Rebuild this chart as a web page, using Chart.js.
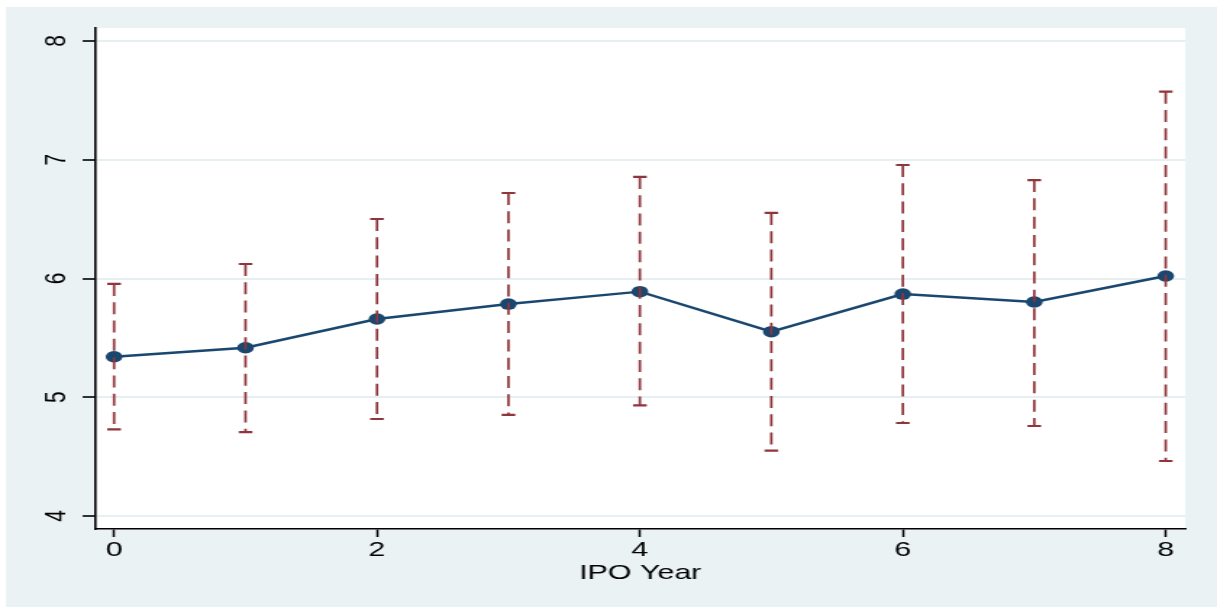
<!DOCTYPE html>
<html>
<head>
<meta charset="utf-8">
<script src="https://cdn.jsdelivr.net/npm/chart.js@4"></script>
<style>
  html, body { margin: 0; padding: 0; background: #ffffff; overflow: hidden; }
  /* the chart is laid out on a narrower canvas and widened horizontally */
  #wrap { width: 840px; height: 608px; transform: scaleX(1.44881); transform-origin: 0 0; }
  canvas { display: block; }
</style>
</head>
<body>
<div id="wrap"><canvas id="c" width="840" height="608"></canvas></div>
<script>
// Years since IPO, mean outcome and its confidence interval
const ipoYears    = [0, 1, 2, 3, 4, 5, 6, 7, 8];
const meanValues  = [5.341, 5.417, 5.659, 5.785, 5.889, 5.552, 5.869, 5.802, 6.021];
const upperBounds = [5.954, 6.122, 6.501, 6.720, 6.855, 6.552, 6.956, 6.829, 7.573];
const lowerBounds = [4.730, 4.707, 4.817, 4.851, 4.932, 4.550, 4.783, 4.758, 4.463];
const xTickValues = [0, 2, 4, 6, 8];
const yTickValues = [4, 5, 6, 7, 8];
const xTitle = 'IPO Year';

const NAVY = '#1A476F';
const MAROON = '#90353B';
const PANEL = '#EAF2F3';
const GRID = '#E6EFF1';
const FONT = '"Liberation Sans", Arial, Helvetica, sans-serif';

// graph region (light panel) and white plot region
const panelPlugin = {
  id: 'panels',
  beforeDraw(chart) {
    const { ctx, chartArea: a, width, height } = chart;
    ctx.save();
    ctx.fillStyle = '#ffffff';
    ctx.fillRect(0, 0, width, height);
    ctx.fillStyle = PANEL;
    ctx.fillRect(4.14, 7, width - 4.14, 600);
    ctx.fillStyle = '#ffffff';
    ctx.fillRect(a.left, a.top, a.right - a.left, a.bottom - a.top);
    ctx.restore();
  }
};

// dashed confidence-interval bars with caps
const ciBarPlugin = {
  id: 'ciBars',
  afterDatasetsDraw(chart) {
    const { ctx, scales: { x, y } } = chart;
    const half = 4.7;
    ctx.save();
    ctx.strokeStyle = MAROON;
    ipoYears.forEach((yr, i) => {
      const px = x.getPixelForValue(yr);
      const top = y.getPixelForValue(upperBounds[i]);
      const bot = y.getPixelForValue(lowerBounds[i]);
      ctx.setLineDash([12, 6.3]);
      ctx.lineWidth = 1.7;
      ctx.beginPath();
      ctx.moveTo(px, top);
      ctx.lineTo(px, bot);
      ctx.stroke();
      ctx.setLineDash([]);
      ctx.lineWidth = 2.2;
      ctx.beginPath();
      ctx.moveTo(px - half, top); ctx.lineTo(px + half, top);
      ctx.moveTo(px - half, bot); ctx.lineTo(px + half, bot);
      ctx.stroke();
    });
    ctx.restore();
  }
};

new Chart(document.getElementById('c'), {
  type: 'line',
  data: {
    datasets: [{
      data: ipoYears.map((yr, i) => ({ x: yr, y: meanValues[i] })),
      borderColor: NAVY,
      backgroundColor: NAVY,
      borderWidth: 2.4,
      pointRadius: 5.8,
      pointBorderWidth: 0,
      pointBackgroundColor: NAVY,
      tension: 0,
      fill: false
    }]
  },
  options: {
    responsive: false,
    animation: false,
    devicePixelRatio: 1,
    layout: { padding: { left: 0, right: 21.8, top: 28, bottom: 0 } },
    plugins: { legend: { display: false }, tooltip: { enabled: false } },
    scales: {
      x: {
        type: 'linear',
        min: -0.145,
        max: 8.15,
        afterBuildTicks: s => { s.ticks = xTickValues.map(v => ({ value: v })); },
        afterFit: s => { s.height = 79; },
        grid: { drawOnChartArea: false, drawTicks: true, tickLength: 8, tickColor: '#000', tickWidth: 1.5 },
        border: { display: true, color: '#000', width: 1.6 },
        ticks: { color: '#000', font: { family: FONT, size: 21 }, padding: 0.4, maxRotation: 0, autoSkip: false },
        title: { display: true, text: xTitle, color: '#000', font: { family: FONT, size: 21 }, padding: { top: 0, bottom: 22.6 } }
      },
      y: {
        type: 'linear',
        min: 3.8905,
        max: 8.1095,
        afterBuildTicks: s => { s.ticks = yTickValues.map(v => ({ value: v })); },
        afterFit: s => { s.width = 65.57; },
        grid: { color: GRID, lineWidth: 2, drawTicks: true, tickLength: 8.5, tickColor: '#000', tickWidth: 1.6 },
        border: { display: true, color: '#000', width: 1.6 },
        ticks: { color: '#000', font: { family: FONT, size: 21 }, padding: 11.8, minRotation: 90, maxRotation: 90, crossAlign: 'center', autoSkip: false }
      }
    }
  },
  plugins: [panelPlugin, ciBarPlugin]
});
</script>
</body>
</html>
